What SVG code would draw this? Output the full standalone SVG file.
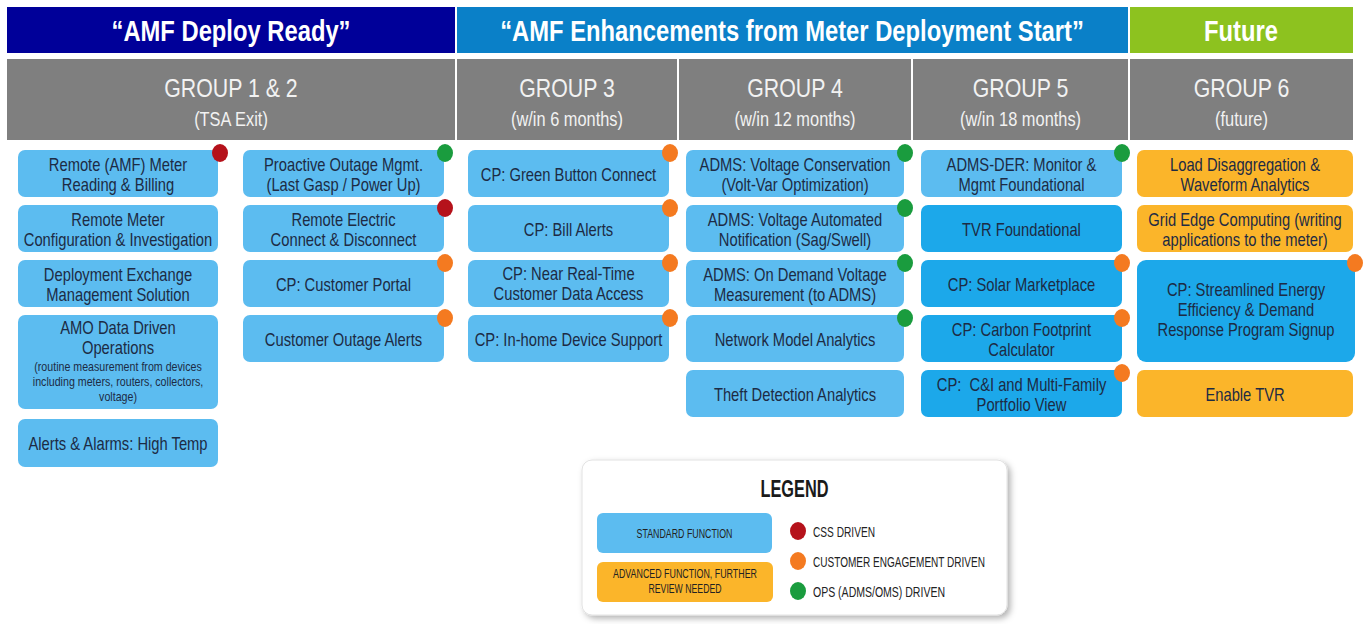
<svg xmlns="http://www.w3.org/2000/svg" width="1364" height="624" viewBox="0 0 1364 624">
<style>
text{font-family:"Liberation Sans",Arial,sans-serif;text-anchor:middle}
.ban{font-weight:bold;font-size:29px;fill:#ffffff}
.gh{font-size:26px;fill:#f2f2f2}
.gs{font-size:20px;fill:#f2f2f2}
.t{font-size:18px;fill:#1d2b44}
.ts{font-size:13px;fill:#1d2b44}
.lb{fill:#5cbcf0}
.db{fill:#1ca8ea}
.ob{fill:#fbb52a}
.gray{fill:#7f7f7f}
.red{fill:#b5121b}
.org{fill:#f47a20}
.grn{fill:#1a9c3e}
.lt{font-size:15px;fill:#222222;text-anchor:start}
.lst{font-size:13px;fill:#222222}
</style>
<defs>
<filter id="sh" x="-5%" y="-5%" width="115%" height="120%">
<feDropShadow dx="3" dy="3" stdDeviation="3" flood-color="#000000" flood-opacity="0.3"/>
</filter>
</defs>
<rect width="1364" height="624" fill="#ffffff"/>

<g id="banners">
<rect x="7" y="7" width="448" height="46" fill="#000099"/>
<rect x="457" y="7" width="671" height="46" fill="#0a80c8"/>
<rect x="1130" y="7" width="223" height="46" fill="#8dc21f"/>
<g transform="translate(231 0) scale(0.82 1)"><text class="ban" x="0" y="41">“AMF Deploy Ready”</text></g>
<g transform="translate(792 0) scale(0.82 1)"><text class="ban" x="0" y="41">“AMF Enhancements from Meter Deployment Start”</text></g>
<g transform="translate(1241 0) scale(0.82 1)"><text class="ban" x="0" y="41">Future</text></g>
</g>

<g id="group-headers">
<rect class="gray" x="7" y="59" width="448" height="81"/>
<rect class="gray" x="457" y="59" width="220" height="81"/>
<rect class="gray" x="679" y="59" width="232" height="81"/>
<rect class="gray" x="913" y="59" width="215" height="81"/>
<rect class="gray" x="1130" y="59" width="223" height="81"/>
<g transform="translate(231 0) scale(0.82 1)"><text class="gh" x="0" y="97">GROUP 1 &amp; 2</text><text class="gs" x="0" y="126">(TSA Exit)</text></g>
<g transform="translate(567 0) scale(0.82 1)"><text class="gh" x="0" y="97">GROUP 3</text><text class="gs" x="0" y="126">(w/in 6 months)</text></g>
<g transform="translate(795 0) scale(0.82 1)"><text class="gh" x="0" y="97">GROUP 4</text><text class="gs" x="0" y="126">(w/in 12 months)</text></g>
<g transform="translate(1020.5 0) scale(0.82 1)"><text class="gh" x="0" y="97">GROUP 5</text><text class="gs" x="0" y="126">(w/in 18 months)</text></g>
<g transform="translate(1241.5 0) scale(0.82 1)"><text class="gh" x="0" y="97">GROUP 6</text><text class="gs" x="0" y="126">(future)</text></g>
</g>

<!-- Group 1 & 2, left column -->
<g id="n-remote-amf-reading">
<rect class="lb" x="18" y="150" width="200" height="47" rx="7"/>
<g transform="translate(118 0) scale(0.82 1)"><text class="t" x="0" y="171.5">Remote (AMF) Meter</text><text class="t" x="0" y="191">Reading &amp; Billing</text></g>
<ellipse class="red" cx="220" cy="153" rx="8" ry="9"/>
</g>
<g id="n-remote-config">
<rect class="lb" x="18" y="205" width="200" height="47" rx="7"/>
<g transform="translate(118 0) scale(0.82 1)"><text class="t" x="0" y="226.5">Remote Meter</text><text class="t" x="0" y="246">Configuration &amp; Investigation</text></g>
</g>
<g id="n-deployment-exchange">
<rect class="lb" x="18" y="260" width="200" height="47" rx="7"/>
<g transform="translate(118 0) scale(0.82 1)"><text class="t" x="0" y="281.5">Deployment Exchange</text><text class="t" x="0" y="301">Management Solution</text></g>
</g>
<g id="n-amo-data">
<rect class="lb" x="18" y="315" width="200" height="94" rx="7"/>
<g transform="translate(118 0) scale(0.82 1)">
<text class="t" x="0" y="334">AMO Data Driven</text>
<text class="t" x="0" y="354">Operations</text>
<text class="ts" x="0" y="371">(routine measurement from devices</text>
<text class="ts" x="0" y="386">including meters, routers, collectors,</text>
<text class="ts" x="0" y="401">voltage)</text>
</g>
</g>
<g id="n-alerts-high-temp">
<rect class="lb" x="18" y="419" width="200" height="48" rx="7"/>
<g transform="translate(118 0) scale(0.82 1)"><text class="t" x="0" y="450">Alerts &amp; Alarms: High Temp</text></g>
</g>

<!-- Group 1 & 2, right column -->
<g id="n-proactive-outage">
<rect class="lb" x="243" y="150" width="201" height="47" rx="7"/>
<g transform="translate(343.5 0) scale(0.82 1)"><text class="t" x="0" y="171.5">Proactive Outage Mgmt.</text><text class="t" x="0" y="191">(Last Gasp / Power Up)</text></g>
<ellipse class="grn" cx="445" cy="153" rx="8" ry="9"/>
</g>
<g id="n-remote-connect">
<rect class="lb" x="243" y="205" width="201" height="47" rx="7"/>
<g transform="translate(343.5 0) scale(0.82 1)"><text class="t" x="0" y="226.5">Remote Electric</text><text class="t" x="0" y="246">Connect &amp; Disconnect</text></g>
<ellipse class="red" cx="445" cy="208" rx="8" ry="9"/>
</g>
<g id="n-customer-portal">
<rect class="lb" x="243" y="260" width="201" height="47" rx="7"/>
<g transform="translate(343.5 0) scale(0.82 1)"><text class="t" x="0" y="291">CP: Customer Portal</text></g>
<ellipse class="org" cx="445" cy="263" rx="8" ry="9"/>
</g>
<g id="n-customer-outage-alerts">
<rect class="lb" x="243" y="315" width="201" height="47" rx="7"/>
<g transform="translate(343.5 0) scale(0.82 1)"><text class="t" x="0" y="346">Customer Outage Alerts</text></g>
<ellipse class="org" cx="445" cy="318" rx="8" ry="9"/>
</g>

<!-- Group 3 -->
<g id="n-green-button">
<rect class="lb" x="468" y="150" width="201" height="47" rx="7"/>
<g transform="translate(568.5 0) scale(0.82 1)"><text class="t" x="0" y="181">CP: Green Button Connect</text></g>
<ellipse class="org" cx="670" cy="153" rx="8" ry="9"/>
</g>
<g id="n-bill-alerts">
<rect class="lb" x="468" y="205" width="201" height="47" rx="7"/>
<g transform="translate(568.5 0) scale(0.82 1)"><text class="t" x="0" y="236">CP: Bill Alerts</text></g>
<ellipse class="org" cx="670" cy="208" rx="8" ry="9"/>
</g>
<g id="n-near-real-time">
<rect class="lb" x="468" y="260" width="201" height="47" rx="7"/>
<g transform="translate(568.5 0) scale(0.82 1)"><text class="t" x="0" y="280.5">CP: Near Real-Time</text><text class="t" x="0" y="300">Customer Data Access</text></g>
<ellipse class="org" cx="670" cy="263" rx="8" ry="9"/>
</g>
<g id="n-in-home-device">
<rect class="lb" x="468" y="315" width="201" height="47" rx="7"/>
<g transform="translate(568.5 0) scale(0.82 1)"><text class="t" x="0" y="346">CP: In-home Device Support</text></g>
<ellipse class="org" cx="670" cy="318" rx="8" ry="9"/>
</g>

<!-- Group 4 -->
<g id="n-voltage-conservation">
<rect class="lb" x="686" y="150" width="218" height="47" rx="7"/>
<g transform="translate(795 0) scale(0.82 1)"><text class="t" x="0" y="171.5">ADMS: Voltage Conservation</text><text class="t" x="0" y="191">(Volt-Var Optimization)</text></g>
<ellipse class="grn" cx="905" cy="153" rx="8" ry="9"/>
</g>
<g id="n-voltage-automated">
<rect class="lb" x="686" y="205" width="218" height="47" rx="7"/>
<g transform="translate(795 0) scale(0.82 1)"><text class="t" x="0" y="226.5">ADMS: Voltage Automated</text><text class="t" x="0" y="246">Notification (Sag/Swell)</text></g>
<ellipse class="grn" cx="905" cy="208" rx="8" ry="9"/>
</g>
<g id="n-on-demand-voltage">
<rect class="lb" x="686" y="260" width="218" height="47" rx="7"/>
<g transform="translate(795 0) scale(0.82 1)"><text class="t" x="0" y="281.5">ADMS: On Demand Voltage</text><text class="t" x="0" y="301">Measurement (to ADMS)</text></g>
<ellipse class="grn" cx="905" cy="263" rx="8" ry="9"/>
</g>
<g id="n-network-model">
<rect class="lb" x="686" y="315" width="218" height="47" rx="7"/>
<g transform="translate(795 0) scale(0.82 1)"><text class="t" x="0" y="346">Network Model Analytics</text></g>
<ellipse class="grn" cx="905" cy="318" rx="8" ry="9"/>
</g>
<g id="n-theft-detection">
<rect class="lb" x="686" y="370" width="218" height="47" rx="7"/>
<g transform="translate(795 0) scale(0.82 1)"><text class="t" x="0" y="401">Theft Detection Analytics</text></g>
</g>

<!-- Group 5 -->
<g id="n-adms-der">
<rect class="lb" x="921" y="150" width="201" height="47" rx="7"/>
<g transform="translate(1021.5 0) scale(0.82 1)"><text class="t" x="0" y="171.5">ADMS-DER: Monitor &amp;</text><text class="t" x="0" y="191">Mgmt Foundational</text></g>
<ellipse class="grn" cx="1122" cy="153" rx="8" ry="9"/>
</g>
<g id="n-tvr-foundational">
<rect class="db" x="921" y="205" width="201" height="47" rx="7"/>
<g transform="translate(1021.5 0) scale(0.82 1)"><text class="t" x="0" y="236">TVR Foundational</text></g>
</g>
<g id="n-solar-marketplace">
<rect class="db" x="921" y="260" width="201" height="47" rx="7"/>
<g transform="translate(1021.5 0) scale(0.82 1)"><text class="t" x="0" y="291">CP: Solar Marketplace</text></g>
<ellipse class="org" cx="1122" cy="263" rx="8" ry="9"/>
</g>
<g id="n-carbon-footprint">
<rect class="db" x="921" y="315" width="201" height="47" rx="7"/>
<g transform="translate(1021.5 0) scale(0.82 1)"><text class="t" x="0" y="336.5">CP: Carbon Footprint</text><text class="t" x="0" y="356">Calculator</text></g>
<ellipse class="org" cx="1122" cy="318" rx="8" ry="9"/>
</g>
<g id="n-ci-multifamily">
<rect class="db" x="921" y="370" width="201" height="47" rx="7"/>
<g transform="translate(1021.5 0) scale(0.82 1)"><text class="t" x="0" y="391.5">CP:&#160; C&amp;I and Multi-Family</text><text class="t" x="0" y="411">Portfolio View</text></g>
<ellipse class="org" cx="1122" cy="373" rx="8" ry="9"/>
</g>

<!-- Group 6 -->
<g id="n-load-disaggregation">
<rect class="ob" x="1137" y="150" width="216" height="47" rx="7"/>
<g transform="translate(1245 0) scale(0.82 1)"><text class="t" x="0" y="171.5">Load Disaggregation &amp;</text><text class="t" x="0" y="191">Waveform Analytics</text></g>
</g>
<g id="n-grid-edge">
<rect class="ob" x="1137" y="205" width="216" height="47" rx="7"/>
<g transform="translate(1245 0) scale(0.82 1)"><text class="t" x="0" y="226.5">Grid Edge Computing (writing</text><text class="t" x="0" y="246">applications to the meter)</text></g>
</g>
<g id="n-streamlined">
<rect class="db" x="1137" y="260" width="218" height="102" rx="9"/>
<g transform="translate(1246 0) scale(0.82 1)"><text class="t" x="0" y="296">CP: Streamlined Energy</text><text class="t" x="0" y="316">Efficiency &amp; Demand</text><text class="t" x="0" y="336">Response Program Signup</text></g>
<ellipse class="org" cx="1355" cy="263" rx="8" ry="9"/>
</g>
<g id="n-enable-tvr">
<rect class="ob" x="1137" y="370" width="216" height="47" rx="7"/>
<g transform="translate(1245 0) scale(0.82 1)"><text class="t" x="0" y="401">Enable TVR</text></g>
</g>

<g id="connectors"></g>

<g id="legend">
<rect x="582" y="460" width="425" height="155" rx="10" fill="#ffffff" stroke="#e2e2e2" filter="url(#sh)"/>
<text x="794.5" y="497" font-weight="bold" font-size="23" fill="#1a1a1a" textLength="68" lengthAdjust="spacingAndGlyphs">LEGEND</text>
<rect class="lb" x="597" y="513" width="175" height="40" rx="6"/>
<text class="lst" x="684.5" y="538" textLength="96" lengthAdjust="spacingAndGlyphs">STANDARD FUNCTION</text>
<rect class="ob" x="597" y="562" width="176" height="40" rx="6"/>
<text class="lst" x="685" y="578" textLength="144" lengthAdjust="spacingAndGlyphs">ADVANCED FUNCTION, FURTHER</text>
<text class="lst" x="685" y="593" textLength="73" lengthAdjust="spacingAndGlyphs">REVIEW NEEDED</text>
<ellipse class="red" cx="798" cy="531" rx="8" ry="9"/>
<text class="lt" x="813" y="537" textLength="62" lengthAdjust="spacingAndGlyphs">CSS DRIVEN</text>
<ellipse class="org" cx="798" cy="561" rx="8" ry="9"/>
<text class="lt" x="813" y="567" textLength="172" lengthAdjust="spacingAndGlyphs">CUSTOMER ENGAGEMENT DRIVEN</text>
<ellipse class="grn" cx="798" cy="591" rx="8" ry="9"/>
<text class="lt" x="813" y="597" textLength="132" lengthAdjust="spacingAndGlyphs">OPS (ADMS/OMS) DRIVEN</text>
</g>
</svg>
